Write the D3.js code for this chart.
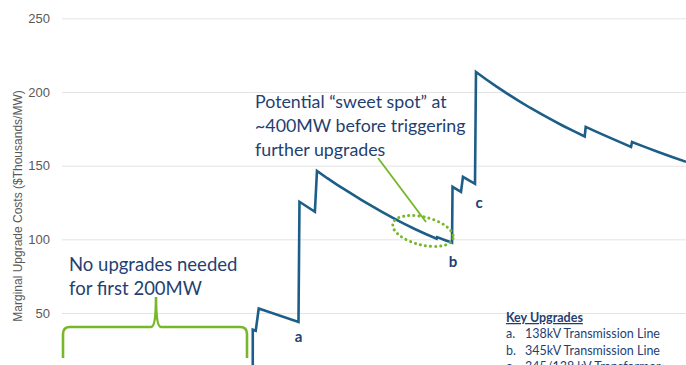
<!DOCTYPE html>
<html>
<head>
<meta charset="utf-8">
<script src="https://cdn.jsdelivr.net/npm/d3@7"></script>
<style>
  body { margin: 0; background: #fff; }
  svg { display: block; }
</style>
</head>
<body>
<div id="chart"></div>
<script>
// Marginal upgrade cost curve (MW of new capacity vs $k/MW)
const mw   = [200, 200, 203, 206, 246, 247, 262.5, 264.6, 275, 285, 298, 310, 320, 330, 341, 352, 363, 374, 385, 385.5, 393, 400.5,
              401, 409.5, 411.5, 423.6, 424.6, 435, 445, 456, 468, 479, 490, 501, 512, 523, 534,
              535, 546, 558, 569, 580.6, 581.6, 595, 608, 622, 636]
const cost = [0, 38.7, 38, 53, 44, 125.5, 118.7, 146.5, 141.5, 137, 131.5, 126.5, 122.5, 118.6, 114.5, 110.7, 107, 103.6, 100.4, 101.5, 99.6, 97.7,
              135.6, 132.2, 142.4, 137.7, 213.6, 208.5, 203.8, 198.9, 193.8, 189.3, 185.1, 181, 177.1, 173.4, 169.8,
              176.3, 172.9, 169.4, 166.1, 162.7, 166.1, 162.6, 159.3, 155.9, 152.6]
const yTicks = [50, 100, 150, 200, 250]
const upgradeKey = ["138kV Transmission Line", "345kV Transmission Line", "345/138 kV Transformer"]

const WIDTH = 686
const HEIGHT = 365
const NAVY = "#1f3f72"
const LINE = "#1d5e89"
const GREEN = "#76b82a"

const svg = d3.select("#chart").append("svg")
    .attr("width", WIDTH)
    .attr("height", HEIGHT)

const x = d3.scaleLinear().domain([0, 650]).range([54, 700])
const y = d3.scaleLinear().domain([0, 250]).range([386.7, 18.3])

// gridlines + tick labels
const yAxis = d3.axisLeft(y).tickValues(yTicks).tickSize(-(WIDTH - 62)).tickPadding(12)
const ga = svg.append("g").attr("transform", "translate(62,0)").call(yAxis)
ga.select(".domain").remove()
ga.selectAll(".tick line").attr("stroke", "#e3e3e3").attr("stroke-width", 1)
ga.selectAll(".tick text")
    .attr("fill", "#595959")
    .style("font-family", "Liberation Sans, Arial, sans-serif")
    .style("font-size", "13px")

// axis title
svg.append("text")
    .attr("transform", "translate(22,206) rotate(-90)")
    .attr("text-anchor", "middle")
    .attr("fill", "#595959")
    .style("font-family", "Liberation Sans, Arial, sans-serif")
    .style("font-size", "12px")
    .text("Marginal Upgrade Costs ($Thousands/MW)")

// cost curve
const pts = mw.map((d, i) => [d, cost[i]])
svg.append("path")
    .datum(pts)
    .attr("fill", "none")
    .attr("stroke", LINE)
    .attr("stroke-width", 2.6)
    .attr("stroke-linejoin", "miter")
    .attr("d", d3.line().x(d => x(d[0])).y(d => y(d[1])))

// a / b / c markers under the upgrade points
const labelFont = "Lato, Open Sans, sans-serif"
const marks = [{k: "a", i: 4, dx: 0, dy: 20}, {k: "b", i: 21, dx: 1, dy: 24}, {k: "c", i: 25, dx: 4, dy: 24}]
svg.selectAll("text.mk").data(marks).enter().append("text")
    .attr("class", "mk")
    .attr("x", d => x(mw[d.i]) + d.dx)
    .attr("y", d => y(cost[d.i]) + d.dy)
    .attr("text-anchor", "middle")
    .attr("fill", NAVY)
    .style("font-family", labelFont)
    .style("font-weight", "bold")
    .style("font-size", "15px")
    .text(d => d.k)

// "no upgrades" annotation
const ann = svg.append("g")
    .attr("fill", NAVY)
    .style("font-family", labelFont)
    .style("font-size", "18.5px")
ann.append("text").attr("x", 69).attr("y", 271).text("No upgrades needed")
ann.append("text").attr("x", 69).attr("y", 295).text("for first 200MW")

// curly brace over 0-200MW
const bx0 = 63, bx1 = 247, bm = 156, by = 327, bb = 358, bt = 297
svg.append("path")
    .attr("fill", "none")
    .attr("stroke", GREEN)
    .attr("stroke-width", 2.6)
    .attr("d", `M${bx0},${bb} L${bx0},${by + 7} Q${bx0},${by} ${bx0 + 7},${by}
                L${bm - 5},${by} Q${bm},${by} ${bm},${bt}
                Q${bm},${by} ${bm + 5},${by} L${bx1 - 7},${by}
                Q${bx1},${by} ${bx1},${by + 7} L${bx1},${bb}`)

// sweet spot annotation
const sw = svg.append("g")
    .attr("fill", NAVY)
    .style("font-family", labelFont)
    .style("font-size", "17.8px")
sw.append("text").attr("x", 255).attr("y", 108).text("Potential \u201csweet spot\u201d at")
sw.append("text").attr("x", 255).attr("y", 132).text("~400MW before triggering")
sw.append("text").attr("x", 255).attr("y", 156).text("further upgrades")

svg.append("line")
    .attr("x1", 378).attr("y1", 158).attr("x2", 426).attr("y2", 222)
    .attr("stroke", GREEN).attr("stroke-width", 1.8)

svg.append("ellipse")
    .attr("transform", "translate(423,231) rotate(14)")
    .attr("rx", 31).attr("ry", 14)
    .attr("fill", "none")
    .attr("stroke", GREEN)
    .attr("stroke-width", 3)
    .attr("stroke-linecap", "round")
    .attr("stroke-dasharray", "0.1 5")

// key
const key = svg.append("g")
    .attr("fill", NAVY)
    .style("font-family", labelFont)
    .style("font-size", "12.5px")
key.append("text").attr("x", 506).attr("y", 322)
    .style("font-weight", "bold")
    .attr("text-decoration", "underline")
    .text("Key Upgrades")
upgradeKey.forEach((t, i) => {
    key.append("text").attr("x", 506).attr("y", 338 + i * 16.5).text(String.fromCharCode(97 + i) + ".")
    key.append("text").attr("x", 525).attr("y", 338 + i * 16.5).text(t)
})
</script>
</body>
</html>
